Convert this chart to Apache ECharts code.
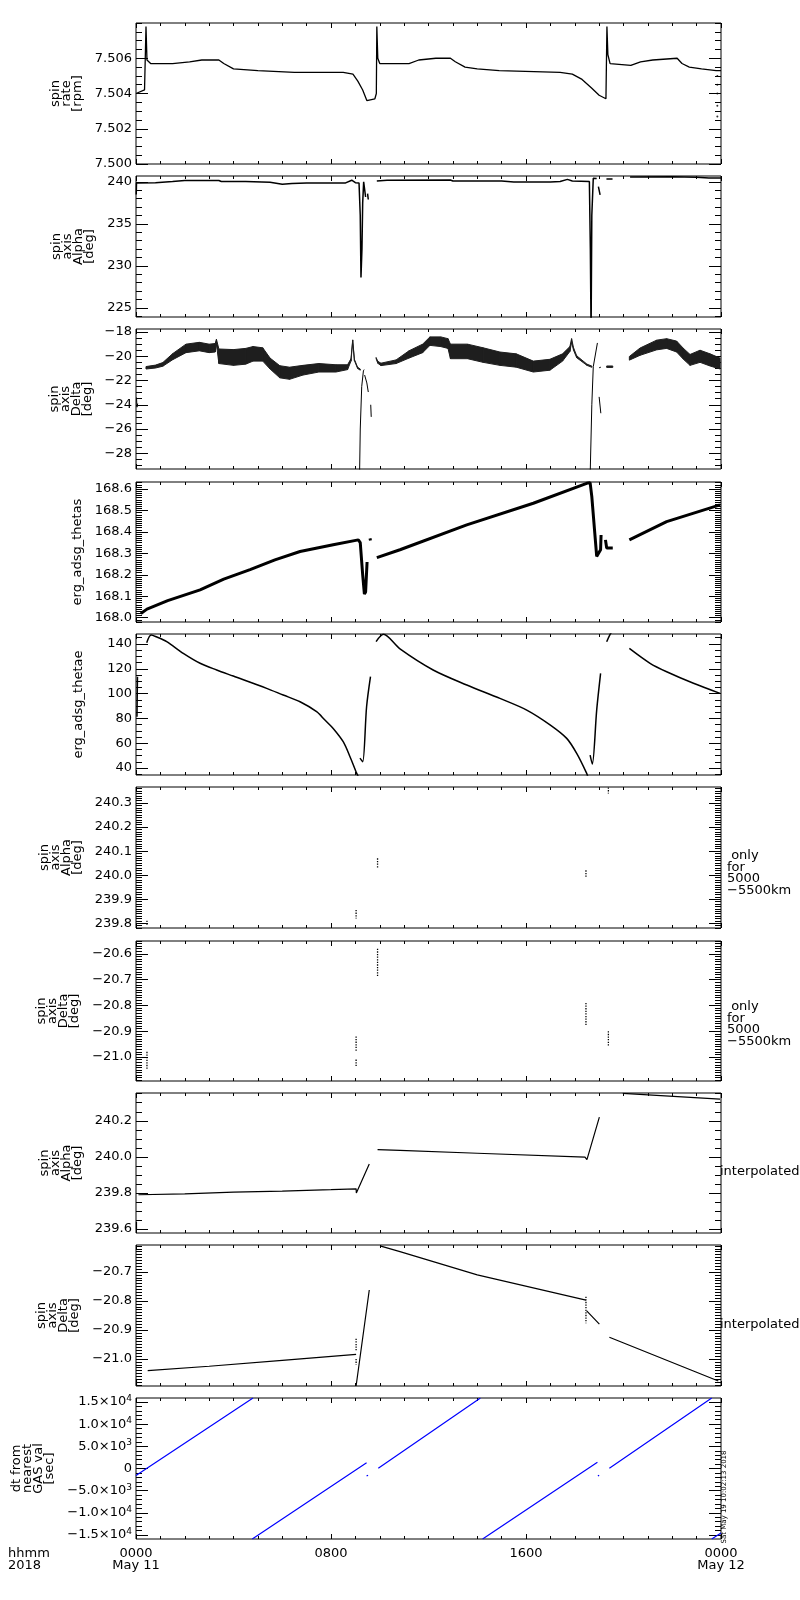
<!DOCTYPE html>
<html lang="en">
<head>
<meta charset="UTF-8">
<title>spin axis / erg_adsg</title>
<style>
  html, body { margin: 0; padding: 0; background: #fff; }
  #myChart { width: 800px; height: 1600px; }
</style>
</head>
<body>
<div id="myChart"></div>
<script src="https://cdn.jsdelivr.net/npm/echarts@6.0.0/dist/echarts.min.js"></script>
<script>
// x = hours since 2018-05-11 0000
var hourTicks = [0, 8, 16, 24];
var hourLabels = ['0000\nMay 11', '0800', '1600', '0000\nMay 12'];

var rateTicks = [7.500, 7.502, 7.504, 7.506];
var alphaTicks = [225, 230, 235, 240];
var deltaTicks = [-28, -26, -24, -22, -20, -18];
var thetasTicks = [168.0, 168.1, 168.2, 168.3, 168.4, 168.5, 168.6];
var thetaeTicks = [40, 60, 80, 100, 120, 140];
var alphaOnlyTicks = [239.8, 239.9, 240.0, 240.1, 240.2, 240.3];
var deltaOnlyTicks = [-21.0, -20.9, -20.8, -20.7, -20.6];
var alphaInterpTicks = [239.6, 239.8, 240.0, 240.2];
var deltaInterpTicks = [-21.0, -20.9, -20.8, -20.7];
var dtTicks = [-15000, -10000, -5000, 0, 5000, 10000, 15000];

var spinRate = [[0.0,7.5040],[0.35,7.5042],[0.41,7.5078],[0.45,7.5059],[0.6,7.5057],[1.5,7.5057],[2.2,7.5058],
  [2.7,7.5059],[3.4,7.5059],[3.6,7.5057],[4.0,7.5054],[5.0,7.5053],[6.5,7.5052],[8.5,7.5052],[8.9,7.5051],
  [9.1,7.5047],[9.3,7.5042],[9.47,7.5036],[9.8,7.5037],[9.86,7.5040],[9.88,7.5078],[9.92,7.5060],[10.0,7.5057],
  [11.2,7.5057],[11.6,7.5059],[12.3,7.5060],[12.9,7.5060],[13.1,7.5058],[13.5,7.5055],[14.0,7.5054],[14.9,7.5053],
  [17.4,7.5052],[17.9,7.5051],[18.3,7.5048],[18.7,7.5043],[19.0,7.5039],[19.28,7.5037],[19.32,7.5078],[19.36,7.5062],
  [19.45,7.5057],[20.3,7.5056],[20.7,7.5058],[21.2,7.5059],[22.2,7.5060],[22.4,7.5057],[22.7,7.5055],[23.2,7.5054],
  [23.8,7.5053],[24.0,7.5053]];
var spinRateDots = [[23.85,7.5050],[23.85,7.5045],[23.85,7.5040],[23.85,7.5033],[23.85,7.5027]];

var spinAlpha = [[0.01,238.5],[0.02,239.87],[0.8,239.9],[1.5,240.05],[2.0,240.17],[3.4,240.17],[3.5,240.05],
  [4.5,240.05],[5.5,239.95],[6.0,239.72],[6.4,239.8],[7.0,239.88],[8.6,239.88],[8.85,240.2],[9.0,239.9],[9.15,239.87],
  [9.2,236],[9.23,228.6],[9.27,232],[9.3,237.5],[9.34,240.0],[9.4,239.95],[9.42,238.2],[9.45,null],
  [9.5,238.6],[9.53,237.9],[9.6,null],
  [9.88,240.1],[10.3,240.2],[12.9,240.22],[13.0,240.1],[15.0,240.1],[15.5,239.98],[17.0,239.98],[17.4,240.05],
  [17.7,240.3],[17.9,240.1],[18.6,240.05],[18.64,232],[18.67,222],[18.7,236],[18.76,240.42],[18.9,240.4],[18.95,null],
  [18.97,239.43],[19.01,239.2],[19.04,238.44],[19.1,null],
  [19.3,240.34],[19.55,240.34],[19.6,null],
  [20.27,240.58],[22.0,240.6],[23.0,240.55],[23.5,240.45],[24.0,240.45]];

// [hour, centre, half spread of the scatter]
var spinDelta = [[0.41,-20.95,0.1],[0.8,-20.85,0.12],[1.1,-20.67,0.15],[1.5,-20.04,0.25],[2.05,-19.35,0.35],
  [2.6,-19.2,0.35],[3.0,-19.35,0.35],[3.25,-19.3,0.35],[3.3,-18.8,0.2],[3.4,-20.0,0.6],[4.0,-20.1,0.65],
  [4.5,-20.0,0.65],[4.8,-19.8,0.6],[5.2,-19.85,0.55],[5.5,-20.6,0.45],[5.9,-21.28,0.5],[6.3,-21.4,0.5],
  [6.85,-21.15,0.4],[7.5,-20.95,0.35],[8.2,-21.0,0.3],[8.68,-20.9,0.2],[8.82,-20.3,0.1],[8.89,-18.7,0.05],
  [8.96,-20.3,0.05],[9.09,-20.95,0.05],[9.2,-21.1,0.05],[9.5,null,0],
  [9.85,-20.15,0.05],[9.92,-20.5,0.08],[10.05,-20.67,0.1],[10.67,-20.45,0.15],[11.2,-19.85,0.3],[11.76,-19.35,0.35],
  [12.06,-18.75,0.35],[12.5,-18.8,0.4],[12.8,-18.95,0.4],[12.9,-19.6,0.6],[13.6,-19.6,0.6],[14.24,-19.9,0.6],
  [14.93,-20.2,0.55],[15.6,-20.35,0.55],[16.3,-20.85,0.45],[16.98,-20.7,0.45],[17.5,-20.1,0.3],[17.8,-19.4,0.2],
  [17.87,-18.7,0.15],[17.95,-19.4,0.1],[18.08,-20.04,0.08],[18.5,-20.7,0.05],[18.7,-20.86,0.05],[19.2,null,0],
  [19.31,-20.86,0.06],[19.56,-20.86,0.06],[19.9,null,0],
  [20.24,-20.17,0.15],[20.68,-19.62,0.3],[21.36,-19.07,0.4],[21.77,-18.95,0.4],[22.18,-19.2,0.45],[22.46,-19.8,0.45],
  [22.73,-20.3,0.45],[23.14,-20.0,0.5],[23.55,-20.3,0.5],[23.96,-20.6,0.45]];
var spinDeltaThin = [[0.02,-23.4],[0.04,-24.2],[0.07,-23.9],[0.1,null],
  [9.17,-30.0],[9.2,-26.0],[9.26,-22.5],[9.33,-21.2],[9.36,-21.1],[9.37,null],
  [9.38,-21.55],[9.47,-22.2],[9.53,-22.95],[9.55,null],
  [9.63,-24.0],[9.65,-25.0],[9.7,null],
  [18.63,-30.0],[18.7,-24.0],[18.76,-20.86],[18.93,-18.9],[18.95,null],
  [19.0,-23.35],[19.07,-24.7],[19.1,null],
  [19.0,-20.95],[19.07,-20.9]];

var thetas = [[0.2,168.02],[0.45,168.04],[1.3,168.08],[2.63,168.13],[3.6,168.18],[4.68,168.224],[5.7,168.27],
  [6.73,168.309],[8.09,168.34],[9.12,168.363],[9.2,168.35],[9.3,168.2],[9.37,168.11],[9.42,168.12],[9.48,168.26],
  [9.5,null],[9.6,168.37],[9.62,168.36],[9.7,null],
  [9.88,168.28],[10.83,168.317],[13.57,168.433],[16.3,168.534],[18.49,168.627],[18.63,168.63],[18.7,168.565],
  [18.8,168.425],[18.9,168.286],[18.98,168.29],[19.06,168.317],[19.08,168.386],[19.1,null],
  [19.26,168.363],[19.31,168.325],[19.56,168.325],[19.7,null],
  [20.24,168.363],[21.77,168.448],[23.96,168.526]];

var thetae = [[0.04,81.3],[0.06,113.6],[0.2,null],
  [0.44,141],[0.62,147.2],[0.8,146],[1.26,141.8],[1.94,132.4],[2.63,124.4],[3.31,119.0],[3.99,114.1],[5.36,104.2],
  [6.04,98.8],[6.73,93.4],[7.41,85.4],[7.75,78.7],[8.09,71.9],[8.5,61.2],[8.78,49.1],[9.05,35.9],[9.15,32],[9.17,null],
  [9.19,48],[9.3,45],[9.46,89.4],[9.62,113.6],[9.7,null],
  [9.85,141.8],[10.15,147.7],[10.83,136],[12.19,119],[13.57,106.9],[14.93,96.1],[16.03,86.7],[17.0,74.6],
  [17.67,63.9],[18.08,51.8],[18.49,35.7],[18.55,32],[18.6,null],
  [18.63,50.4],[18.72,43.2],[18.9,86.7],[19.06,116.3],[19.2,null],
  [19.31,141.8],[19.45,147.7],[19.5,149],[19.6,null],
  [20.24,136.4],[21.09,124.4],[21.77,117.6],[22.87,108.3],[23.96,100.2]];

var alphaOnly = [[0.45,239.81],[0.45,239.79],[0.5,null],
  [9.03,239.855],[9.03,239.82],[9.1,null],
  [9.91,240.07],[9.91,240.03],[10.0,null],
  [18.46,240.02],[18.46,239.99],[18.5,null],
  [19.38,240.365],[19.38,240.34]];

var deltaOnly = [[0.45,-20.98],[0.45,-21.05],[0.5,null],
  [9.03,-20.92],[9.03,-20.98],[9.04,null],
  [9.03,-21.01],[9.03,-21.04],[9.1,null],
  [9.91,-20.58],[9.91,-20.69],[10.0,null],
  [18.46,-20.79],[18.46,-20.88],[18.5,null],
  [19.38,-20.9],[19.38,-20.96]];

var alphaInterp = [[0.02,239.6],[0.02,239.64],[0.05,null],
  [0.1,239.79],[2.0,239.795],[4.0,239.805],[6.0,239.81],[8.0,239.818],[9.03,239.823],
  [9.04,239.80],[9.57,239.96],[9.7,null],
  [9.91,240.04],[10.83,240.036],[14.0,240.02],[18.42,239.999],[18.5,239.985],[19.01,240.22],[19.5,null],
  [19.97,240.352],[23.96,240.32]];

var deltaInterp = [[0.02,-21.07],[0.02,-21.09],[0.1,null],
  [0.48,-21.04],[3.0,-21.025],[6.0,-21.005],[9.03,-20.984],[9.035,null],
  [9.03,-21.093],[9.57,-20.762],[9.8,null],
  [10.01,-20.61],[10.83,-20.63],[14.0,-20.71],[18.46,-20.797],[18.47,null],
  [18.49,-20.834],[19.01,-20.88],[19.2,null],
  [19.42,-20.925],[23.89,-21.076]];
var deltaInterpDots = [[9.03,-20.93],[9.03,-20.97],[9.04,null],[9.03,-21.0],[9.03,-21.02],[9.05,null],
  [18.46,-20.785],[18.46,-20.877]];

var dtGas = [[0.0,-1600],[4.8,15900],[4.8,null],
  [4.77,-15900],[9.46,1300],[9.48,null],
  [9.46,-1700],[9.52,-1500],[9.6,null],
  [9.94,60],[14.13,15900],[14.15,null],
  [14.22,-15900],[18.93,1400],[18.94,null],
  [18.95,-1700],[19.0,-1500],[19.1,null],
  [19.42,60],[23.62,15900],[23.63,null],
  [23.62,-15900],[24.0,-14550]];

var FONT = 'DejaVu Sans';

var panels = [
  {top: 23,   h: 141, min: 7.5,     max: 7.508,   ticks: rateTicks,        minor: 0.0005, dec: 3, name: 'spin\nrate\n[rpm]', gap: 51},
  {top: 176,  h: 141, min: 223.9,   max: 240.7,   ticks: alphaTicks,       minor: 1,      dec: 0, name: 'spin\naxis\nAlpha\n[deg]', gap: 38},
  {top: 329,  h: 140, min: -29.3,   max: -17.75,  ticks: deltaTicks,       minor: 0.5,    dec: 0, name: 'spin\naxis\nDelta\n[deg]', gap: 39},
  {top: 482,  h: 140, min: 167.98,  max: 168.633, ticks: thetasTicks,      minor: 0.01,   dec: 1, name: 'erg_adsg_thetas', gap: 52},
  {top: 634,  h: 141, min: 34.4,    max: 148,     ticks: thetaeTicks,      minor: 5,      dec: 0, name: 'erg_adsg_thetae', gap: 52},
  {top: 787,  h: 141, min: 239.78,  max: 240.367, ticks: alphaOnlyTicks,   minor: 0.01,   dec: 1, name: 'spin\naxis\nAlpha\n[deg]', gap: 51},
  {top: 941,  h: 140, min: -21.093, max: -20.55,  ticks: deltaOnlyTicks,   minor: 0.01,   dec: 1, name: 'spin\naxis\nDelta\n[deg]', gap: 52},
  {top: 1093, h: 140, min: 239.578, max: 240.354, ticks: alphaInterpTicks, minor: 0.05,   dec: 1, name: 'spin\naxis\nAlpha\n[deg]', gap: 51},
  {top: 1245, h: 141, min: -21.093, max: -20.607, ticks: deltaInterpTicks, minor: 0.01,   dec: 1, name: 'spin\naxis\nDelta\n[deg]', gap: 53},
  {top: 1398, h: 141, min: -15900,  max: 15900,   ticks: dtTicks,          minor: 1000,   sci: true, name: 'dt from\nnearest\nGAS val\n[sec]', gap: 76}
];

function minorTicks(p) {
  var out = [];
  var k0 = Math.ceil(p.min / p.minor - 1e-6), k1 = Math.floor(p.max / p.minor + 1e-6);
  for (var k = k0; k <= k1; k++) out.push(+(k * p.minor).toFixed(6));
  return out;
}

function fmt(p) {
  return function (v) {
    if (p.sci) {
      if (Math.abs(v) < 1e-9) return '0';
      var e = Math.floor(Math.log10(Math.abs(v)) + 1e-9);
      var m = (Math.abs(v) / Math.pow(10, e)).toFixed(1);
      return (v < 0 ? '−' : '') + m + '×10{sup|' + e + '}';
    }
    return v.toFixed(p.dec).replace('-', '−');
  };
}

var grids = [], xAxes = [], yAxes = [];
panels.forEach(function (p, i) {
  grids.push({left: 136, width: 585, top: p.top, height: p.h, show: true, borderColor: '#000', borderWidth: 1});
  var last = i === panels.length - 1;
  ['bottom', 'top'].forEach(function (pos) {
    xAxes.push({
      gridIndex: i, type: 'value', position: pos, min: 0, max: 24, interval: 8,
      axisLine: {show: false, onZero: false}, splitLine: {show: false},
      axisTick: {show: true, inside: true, length: 5, lineStyle: {color: '#000', width: 1}},
      minorTick: {show: true, splitNumber: 8, length: 3, lineStyle: {color: '#000', width: 1}},
      axisLabel: (pos === 'bottom' && last) ? {
        show: true, margin: 8, color: '#000', fontFamily: FONT, fontSize: 13, lineHeight: 12.5,
        formatter: function (v) { return hourLabels[hourTicks.indexOf(v)] || ''; }
      } : {show: false}
    });
  });
  var mt = minorTicks(p);
  [['left', p.ticks, 12, true], ['left', mt, 6, false], ['right', p.ticks, 12, false], ['right', mt, 6, false]]
    .forEach(function (a, k) {
      yAxes.push({
        gridIndex: i, type: 'value', position: a[0], min: p.min, max: p.max,
        axisLine: {show: false, onZero: false}, splitLine: {show: false},
        axisTick: {show: true, inside: true, length: a[2], customValues: a[1], lineStyle: {color: '#000', width: 1}},
        axisLabel: a[3] ? {
          show: true, customValues: a[1], formatter: fmt(p), margin: 4, color: '#000',
          fontFamily: FONT, fontSize: 13, lineHeight: 16,
          rich: {sup: {fontFamily: FONT, fontSize: 9, lineHeight: 9, verticalAlign: 'top', color: '#000'}}
        } : {show: false},
        name: k === 0 ? p.name : '', nameLocation: 'middle', nameRotate: 90, nameGap: p.gap,
        nameTextStyle: {color: '#000', fontFamily: FONT, fontSize: 13, lineHeight: 11}
      });
    });
});

function line(p, data, w, color, type, smooth) {
  return {
    type: 'line', xAxisIndex: 2 * p, yAxisIndex: 4 * p, data: data,
    showSymbol: false, symbol: 'none', animation: false, smooth: smooth || false,
    lineStyle: {color: color || '#000', width: w, type: type || 'solid'}
  };
}

// scatter band of panel 3: one quad per pair of readings
var bandColor = '#1e1e1e';
var deltaBand = {
  type: 'custom', xAxisIndex: 4, yAxisIndex: 8, clip: true, animation: false,
  data: spinDelta.map(function (d) { return [d[0], d[1] == null ? -25 : d[1], d[2]]; }),
  encode: {x: 0, y: 1},
  renderItem: function (params, api) {
    var a = spinDelta[params.dataIndex], b = spinDelta[params.dataIndex + 1];
    if (!b || a[1] == null || b[1] == null) return null;
    return {
      type: 'polygon',
      shape: {points: [
        api.coord([a[0], a[1] + a[2]]), api.coord([b[0], b[1] + b[2]]),
        api.coord([b[0], b[1] - b[2]]), api.coord([a[0], a[1] - a[2]])
      ]},
      style: {fill: bandColor, stroke: bandColor, lineWidth: 1}
    };
  }
};

var series = [
  line(0, spinRate, 1.3),
  {type: 'scatter', xAxisIndex: 0, yAxisIndex: 0, data: spinRateDots, symbolSize: 2, itemStyle: {color: '#000'}, animation: false},
  line(1, spinAlpha, 1.5),
  deltaBand,
  line(2, spinDeltaThin, 1),
  line(3, thetas, 3),
  line(4, thetae, 1.5, '#000', 'solid', 0.3),
  line(5, alphaOnly, 1.3, '#000', 'dotted'),
  line(6, deltaOnly, 1.3, '#000', 'dotted'),
  line(7, alphaInterp, 1.2),
  line(8, deltaInterp, 1.2),
  line(8, deltaInterpDots, 1.3, '#000', 'dotted'),
  line(9, dtGas, 1.2, '#0000ff')
];

var textStyle = {fill: '#000', fontFamily: FONT, fontSize: 13, lineHeight: 11.5};
function note(x, y, text, extra) {
  var st = Object.assign({text: text}, textStyle, extra || {});
  return {type: 'text', x: x, y: y, style: st};
}

var myChart = echarts.init(document.getElementById('myChart'), null, {renderer: 'canvas'});
var option = {
  backgroundColor: '#fff',
  animation: false,
  grid: grids,
  xAxis: xAxes,
  yAxis: yAxes,
  series: series,
  graphic: [
    note(8, 1547, 'hhmm\n2018', {fontSize: 13, lineHeight: 12.5}),
    note(727, 850, ' only\nfor\n5000\n−5500km'),
    note(727, 1001, ' only\nfor\n5000\n−5500km'),
    note(720, 1172, 'interpolated', {verticalAlign: 'middle'}),
    note(720, 1325, 'interpolated', {verticalAlign: 'middle'}),
    {type: 'text', x: 724, y: 1497, rotation: Math.PI / 2,
      style: {text: 'Sat May 19 10:02:13 2018', fill: '#000', fontFamily: FONT, fontSize: 7, align: 'center', verticalAlign: 'middle'}}
  ]
};
myChart.setOption(option);
</script>
</body>
</html>
